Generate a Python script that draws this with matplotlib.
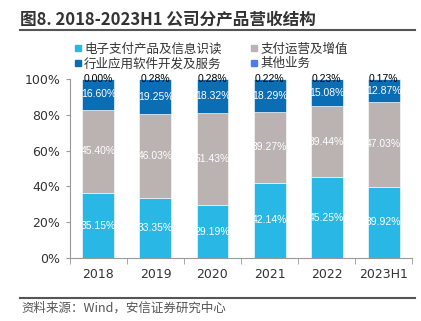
import numpy as np
import matplotlib.pyplot as plt
from matplotlib.lines import Line2D

plt.rcParams["font.family"] = ["Noto Sans CJK SC", "DejaVu Sans"]

# data
years = ["2018", "2019", "2020", "2021", "2022", "2023H1"]
pay_products = [35.15, 33.35, 29.19, 42.14, 45.25, 39.92]
pay_operation = [45.40, 46.03, 51.43, 39.27, 39.44, 47.03]
software = [16.60, 19.25, 18.32, 18.29, 15.08, 12.87]
other = [0.00, 0.28, 0.28, 0.22, 0.23, 0.17]

names = ["电子支付产品及信息识读", "支付运营及增值", "行业应用软件开发及服务", "其他业务"]
colors = ["#29B7E6", "#BAB3B1", "#0B6DB3", "#4F7CF2"]
label_colors = ["white", "white", "white", "black"]

series = [pay_products, pay_operation, software, other]
raw = np.array(series)
share = raw / raw.sum(axis=0) * 100  # 100% stacked

fig = plt.figure(figsize=(4.21, 3.21), dpi=100)
ax = fig.add_axes([0.166, 0.196, 0.813, 0.558])

x = np.arange(len(years))
bottom = np.zeros(len(years))
for i in range(4):
    ax.bar(x, share[i], 0.56, bottom=bottom, color=colors[i],
           edgecolor="white", linewidth=0.4, label=names[i])
    for j in range(len(years)):
        yc = bottom[j] + share[i][j] / 2
        ax.text(x[j], yc, "%.2f%%" % raw[i][j], ha="center", va="center",
                fontsize=7.5, color=label_colors[i],
                family=["Liberation Sans Narrow", "Liberation Sans"],
                clip_on=False)
    bottom += share[i]

ax.set_xlim(-0.5, len(years) - 0.5)
ax.set_ylim(0, 100)
ax.set_yticks(np.arange(0, 101, 20))
ax.set_yticklabels(["%d%%" % v for v in range(0, 101, 20)])
ax.set_xticks(x)
ax.set_xticklabels(years)
ax.set_xticks(np.arange(-0.5, len(years), 1), minor=True)
ax.tick_params(axis="x", which="major", length=0, pad=7, labelsize=9,
               labelcolor="#333333")
ax.tick_params(axis="x", which="minor", length=4, color="#999999")
ax.tick_params(axis="y", length=3, color="#999999", labelsize=9,
               labelcolor="#333333", pad=4)
for lab in ax.get_xticklabels() + ax.get_yticklabels():
    lab.set_family("DejaVu Sans")
for s in ["top", "right"]:
    ax.spines[s].set_visible(False)
for s in ["left", "bottom"]:
    ax.spines[s].set_color("#999999")

# legend, row-wise order
order = [0, 2, 1, 3]
handles = [Line2D([], [], marker="s", ls="", ms=5, color=colors[k]) for k in order]
leg = fig.legend(handles, [names[k] for k in order], loc="upper left",
                 bbox_to_anchor=(0.152, 0.895), ncol=2, frameon=False,
                 fontsize=9, handletextpad=0.1, columnspacing=2.2,
                 labelspacing=0.15, handlelength=0.8, borderpad=0.2)
for t in leg.get_texts():
    t.set_color("#333333")

# title and frame lines
fig.text(0.048, 0.94, "图8. 2018-2023H1 公司分产品营收结构", fontsize=12,
         fontweight="bold", color="#333333", va="center")
fig.add_artist(Line2D([0.048, 0.986], [0.905, 0.905], color="#555555", lw=1.5))
fig.add_artist(Line2D([0.048, 0.986], [0.072, 0.072], color="#555555", lw=1.5))
fig.text(0.052, 0.04, "资料来源：Wind，安信证券研究中心", fontsize=9,
         style="italic", color="#555555", va="center")

plt.savefig("out.png", dpi=100)
